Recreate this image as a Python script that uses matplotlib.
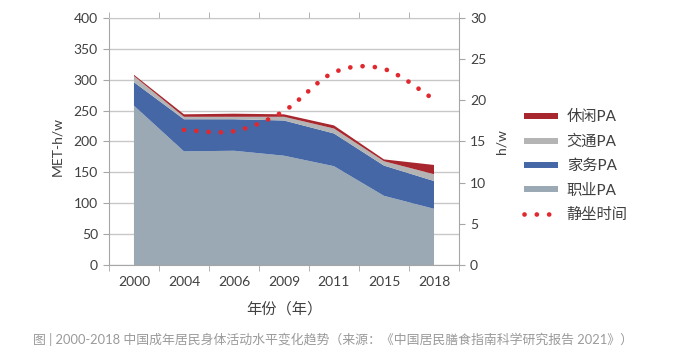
import matplotlib
matplotlib.use("Agg")
import matplotlib.pyplot as plt
import numpy as np
from matplotlib.path import Path
from matplotlib.patches import PathPatch
from matplotlib.lines import Line2D

plt.rcParams['font.family'] = ['Lato', 'Noto Sans CJK SC', 'DejaVu Sans']

# data
years = ['2000', '2004', '2006', '2009', '2011', '2015', '2018']
occupational = [258, 184, 185, 177, 160, 112, 91]   # 职业PA
household = [38, 52, 51, 57, 53, 49, 45]            # 家务PA
transport = [10, 4, 4, 6, 8, 7, 11]                 # 交通PA
leisure = [2, 4, 5, 4, 5, 3, 15]                    # 休闲PA
sedentary_years = ['2004', '2006', '2009', '2011', '2015', '2018']
sedentary = [16.4, 16.25, 18.7, 23.4, 23.8, 20.1]   # 静坐时间 (h/w)

c_leisure = '#a8262d'
c_transport = '#b4b4b4'
c_household = '#4567a6'
c_occupational = '#9aa9b4'
c_sedentary = '#e0282e'
axis_gray = '#a6a6a6'
grid_gray = '#c8c8c8'
text_col = '#404040'

fig = plt.figure(figsize=(6.81, 3.64), dpi=100)
ax = fig.add_axes([0.160, 0.272, 0.514, 0.6786])

x = np.arange(len(years))
ax.stackplot(x, occupational, household, transport, leisure,
             colors=[c_occupational, c_household, c_transport, c_leisure], lw=0)

ax.set_xlim(-0.5, len(years) - 0.5)
ax.set_ylim(0, 400)
ax.set_yticks(range(0, 401, 50))
ax.set_xticks(x)
ax.set_xticklabels(years)
ax.set_xticks(np.arange(-0.5, len(years), 1), minor=True)
ax.grid(axis='y', color=grid_gray, lw=1.0)
ax.set_axisbelow(True)
ax.tick_params(axis='x', which='major', length=0, pad=8, labelsize=10, labelcolor=text_col)
ax.tick_params(axis='x', which='minor', length=4, color=axis_gray, top=True, bottom=True)
ax.tick_params(axis='y', length=4, color=axis_gray, labelsize=10, labelcolor=text_col, pad=4)
for side in ['left', 'bottom', 'top']:
    ax.spines[side].set_color(axis_gray)
ax.spines['top'].set_color(grid_gray)
ax.spines['right'].set_visible(False)

ax.set_ylabel('MET-h/w', fontsize=10, color=text_col)
ax.yaxis.set_label_coords(-0.13, 0.48)
ax.set_xlabel('年份（年）', fontsize=11, color=text_col)
ax.xaxis.set_label_coords(0.5, -0.15)

# right axis: sedentary time, drawn as a smoothed dotted curve
ax2 = ax.twinx()
ax2.set_ylim(0, 30)
ax2.set_yticks(range(0, 31, 5))
ax2.tick_params(axis='y', length=4, color=axis_gray, labelsize=10, labelcolor=text_col, pad=4)
for side in ['left', 'bottom', 'top']:
    ax2.spines[side].set_visible(False)
ax2.spines['right'].set_color(axis_gray)
ax2.set_ylabel('h/w', fontsize=10, color=text_col)
ax2.yaxis.set_label_coords(1.105, 0.5)

sx = [years.index(y) for y in sedentary_years]
pts = list(zip(sx, sedentary))
verts = [pts[0]]
codes = [Path.MOVETO]
n = len(pts)
for i in range(n - 1):
    p_prev = pts[max(i - 1, 0)]
    p0 = pts[i]
    p1 = pts[i + 1]
    p_next = pts[min(i + 2, n - 1)]
    c1 = (p0[0] + (p1[0] - p_prev[0]) / 6, p0[1] + (p1[1] - p_prev[1]) / 6)
    c2 = (p1[0] - (p_next[0] - p0[0]) / 6, p1[1] - (p_next[1] - p0[1]) / 6)
    verts += [c1, c2, p1]
    codes += [Path.CURVE4] * 3

dots = (0, (0.01, 2.6))
ax2.add_patch(PathPatch(Path(verts, codes), fill=False, edgecolor=c_sedentary,
                        lw=3.4, linestyle=dots, capstyle='round'))

handles = [
    Line2D([], [], color=c_leisure, lw=4.3, solid_capstyle='butt'),
    Line2D([], [], color=c_transport, lw=4.3, solid_capstyle='butt'),
    Line2D([], [], color=c_household, lw=4.3, solid_capstyle='butt'),
    Line2D([], [], color=c_occupational, lw=4.3, solid_capstyle='butt'),
    Line2D([], [], color=c_sedentary, lw=3.4, linestyle=dots, dash_capstyle='round'),
]
labels = ['休闲PA', '交通PA', '家务PA', '职业PA', '静坐时间']
fig.legend(handles, labels, loc='upper left', bbox_to_anchor=(524 / 681, 1 - 110 / 364),
           frameon=False, fontsize=11, handlelength=2.2, handletextpad=0.6,
           labelspacing=0.68, borderpad=0, borderaxespad=0, labelcolor=text_col)

fig.text(33 / 681, 1 - 339 / 364,
         '图 | 2000-2018 中国成年居民身体活动水平变化趋势（来源：《中国居民膳食指南科学研究报告 2021》）',
         fontsize=9.3, color='#9a9a9a', ha='left', va='center')

fig.savefig('out.png', dpi=100)
